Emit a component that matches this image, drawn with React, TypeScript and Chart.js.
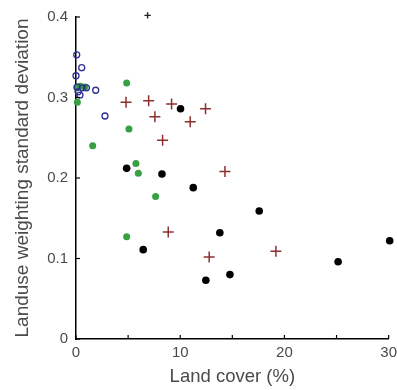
import React, { useEffect, useRef } from "react";
import { Chart, registerables } from "chart.js";

Chart.register(...registerables);

// Data: [land cover %, landuse weighting SD]
const blueCircles: [number, number][] = [
  [0.07, 0.353], [0.55, 0.337], [0.0, 0.327], [1.89, 0.309], [2.78, 0.277],
  [0.38, 0.303], [0.1, 0.313], [0.6, 0.312], [1.0, 0.312], [0.2, 0.307],
];
const greenDots: [number, number][] = [
  [4.86, 0.318], [0.13, 0.294], [0.4, 0.314], [0.85, 0.313], [0.1, 0.312],
  [5.08, 0.261], [1.6, 0.24], [5.75, 0.218], [5.98, 0.206], [7.64, 0.177],
  [4.86, 0.127],
];
const blackDots: [number, number][] = [
  [10.03, 0.286], [4.86, 0.212], [8.25, 0.205], [11.25, 0.188], [17.58, 0.159],
  [13.8, 0.132], [6.45, 0.111], [14.77, 0.08], [12.46, 0.073], [25.15, 0.096],
  [30.1, 0.122],
];
const redPlus: [number, number][] = [
  [4.8, 0.294], [6.97, 0.296], [9.17, 0.292], [7.57, 0.276], [10.96, 0.27],
  [12.43, 0.286], [8.31, 0.247], [14.29, 0.208], [8.85, 0.133], [12.78, 0.102],
  [19.18, 0.109],
];
const blackPlus: [number, number][] = [[6.87, 0.402]];

const xTitle = "Land cover (%)";
const yTitle = "Landuse weighting standard deviation";
const xMin = 0, xMax = 30, xStep = 5, xLabelEvery = 10;
const yMin = 0, yMax = 0.4, yStep = 0.1;

const FONT = "'Liberation Sans', Arial, Helvetica, sans-serif";
const TEXT = "#4a4a4a";

const toPts = (arr: [number, number][]) => arr.map(([x, y]) => ({ x, y }));

const inwardTicks = {
  id: "inwardTicks",
  afterDatasetsDraw(chart: any) {
    const { ctx, chartArea } = chart;
    const xs = chart.scales.x;
    const ys = chart.scales.y;
    ctx.save();
    ctx.strokeStyle = "#000";
    ctx.lineWidth = 1.2;
    xs.ticks.forEach((t: any) => {
      const px = xs.getPixelForValue(t.value);
      ctx.beginPath();
      ctx.moveTo(px, chartArea.bottom);
      ctx.lineTo(px, chartArea.bottom - 4);
      ctx.stroke();
    });
    ys.ticks.forEach((t: any) => {
      const py = ys.getPixelForValue(t.value);
      ctx.beginPath();
      ctx.moveTo(chartArea.left, py);
      ctx.lineTo(chartArea.left + 4, py);
      ctx.stroke();
    });
    ctx.restore();
  },
};

export default function App() {
  const ref = useRef<HTMLCanvasElement | null>(null);
  useEffect(() => {
    if (!ref.current) return;
    const chart = new Chart(ref.current, {
      type: "scatter",
      data: {
        datasets: [
          {
            data: toPts(blueCircles),
            pointStyle: "circle",
            pointRadius: 3,
            pointBorderWidth: 1.3,
            pointBorderColor: "#2e2e94",
            pointBackgroundColor: "rgba(0,0,0,0)",
            clip: false,
          },
          {
            data: toPts(greenDots),
            pointStyle: "circle",
            pointRadius: 3.5,
            pointBorderWidth: 0,
            pointBackgroundColor: "#36a043",
            clip: false,
          },
          {
            data: toPts(blackDots),
            pointStyle: "circle",
            pointRadius: 3.8,
            pointBorderWidth: 0,
            pointBackgroundColor: "#000",
            clip: false,
          },
          {
            data: toPts(redPlus),
            pointStyle: "cross",
            pointRadius: 5.5,
            pointBorderWidth: 1.5,
            pointBorderColor: "#8e2f2f",
            clip: false,
          },
          {
            data: toPts(blackPlus),
            pointStyle: "cross",
            pointRadius: 3.2,
            pointBorderWidth: 1.4,
            pointBorderColor: "#222",
            clip: false,
          },
        ],
      },
      options: {
        animation: false,
        responsive: false,
        maintainAspectRatio: false,
        events: [],
        layout: { padding: { left: 0, right: 0, top: 17, bottom: 0 } },
        plugins: { legend: { display: false }, tooltip: { enabled: false } },
        scales: {
          x: {
            type: "linear",
            min: xMin,
            max: xMax,
            grid: { display: true, drawOnChartArea: false, drawTicks: true, tickLength: 5, color: "rgba(0,0,0,0)" },
            border: { display: true, color: "#000", width: 1.5 },
            ticks: {
              stepSize: xStep,
              padding: 0,
              color: TEXT,
              font: { family: FONT, size: 15 },
              maxRotation: 0,
              autoSkip: false,
              callback: (v: any) => (Number(v) % xLabelEvery === 0 ? String(v) : ""),
            },
            title: {
              display: true,
              text: xTitle,
              color: TEXT,
              font: { family: FONT, size: 18.5 },
              padding: { top: 0, bottom: 2 },
            },
            afterFit: (s: any) => { s.height = 51; },
          },
          y: {
            type: "linear",
            min: yMin,
            max: yMax,
            grid: { display: false, drawTicks: false },
            border: { display: true, color: "#000", width: 1.5 },
            ticks: {
              stepSize: yStep,
              padding: 8,
              color: TEXT,
              font: { family: FONT, size: 15 },
              callback: (v: any) => String(Math.round(Number(v) * 10) / 10),
            },
            title: {
              display: true,
              text: yTitle,
              color: TEXT,
              font: { family: FONT, size: 19 },
              padding: { top: 11, bottom: 0 },
            },
            afterFit: (s: any) => { s.width = 76; },
          },
        },
      },
      plugins: [inwardTicks],
    });
    return () => chart.destroy();
  }, []);
  return (
    <div style={{ position: "fixed", left: 0, top: 0, width: 397, height: 390, background: "#fff" }}>
      <canvas ref={ref} width={397} height={390} style={{ width: 397, height: 390, display: "block" }} />
    </div>
  );
}
